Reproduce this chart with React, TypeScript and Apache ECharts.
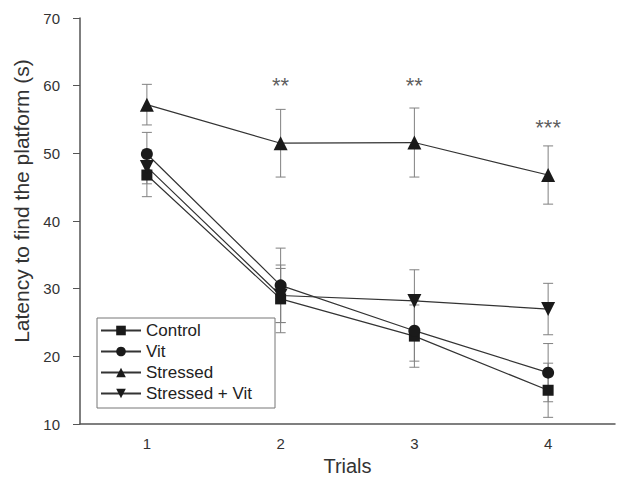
import React, { useEffect, useRef } from "react";
import * as echarts from "echarts";

const trials = ["1", "2", "3", "4"];
const control = [46.8, 28.5, 23.0, 15.0];
const controlErr = [3.2, 5.0, 4.6, 4.0];
const vit = [49.9, 30.5, 23.8, 17.6];
const vitErr = [3.2, 5.5, 4.5, 4.3];
const stressed = [57.2, 51.5, 51.6, 46.8];
const stressedErr = [3.0, 5.0, 5.1, 4.3];
const stressedVit = [48.0, 29.0, 28.2, 27.0];
const stressedVitErr = [2.5, 4.0, 4.6, 3.8];
const sigLabels = ["", "**", "**", "***"];
const sigY = [null, 60.0, 60.0, 53.8];

const FONT = "Liberation Sans, Arial, sans-serif";
const LINE = "#333";
const MARK = "#1a1a1a";

function errSeries(vals: number[], errs: number[]) {
  return {
    type: "custom",
    silent: true,
    z: 1,
    data: vals.map((v, i) => [i, v - errs[i], v + errs[i]]),
    renderItem: (params: any, api: any) => {
      const lo = api.coord([api.value(0), api.value(1)]);
      const hi = api.coord([api.value(0), api.value(2)]);
      const hw = 5;
      const style = { stroke: "#808080", lineWidth: 1 };
      return {
        type: "group",
        children: [
          { type: "line", shape: { x1: lo[0], y1: lo[1], x2: hi[0], y2: hi[1] }, style },
          { type: "line", shape: { x1: lo[0] - hw, y1: lo[1], x2: lo[0] + hw, y2: lo[1] }, style },
          { type: "line", shape: { x1: hi[0] - hw, y1: hi[1], x2: hi[0] + hw, y2: hi[1] }, style },
        ],
      };
    },
  };
}

function lineSeries(name: string, vals: number[], symbol: string, size: number) {
  return {
    name,
    type: "line",
    data: vals,
    symbol,
    symbolSize: size,
    z: 3,
    lineStyle: { color: LINE, width: 1.2 },
    itemStyle: { color: MARK, borderWidth: 0 },
  };
}

export default function App() {
  const ref = useRef<HTMLDivElement>(null);
  useEffect(() => {
    if (!ref.current) return;
    const chart = echarts.init(ref.current, undefined, { renderer: "svg" });
    const downTri = "path://M0,0 L10,0 L5,9 Z";
    chart.setOption({
      animation: false,
      backgroundColor: "#fff",
      textStyle: { fontFamily: FONT },
      grid: { left: 80, right: 3, top: 18, bottom: 56 },
      legend: {
        orient: "vertical",
        left: 100,
        top: 322,
        padding: 0,
        itemGap: 4,
        itemWidth: 40,
        itemHeight: 12,
        textStyle: { fontSize: 17, color: "#222", fontFamily: FONT },
        data: ["Control", "Vit", "Stressed", "Stressed + Vit"],
      },
      xAxis: {
        type: "category",
        data: trials,
        boundaryGap: true,
        name: "Trials",
        nameLocation: "middle",
        nameGap: 30,
        nameTextStyle: { fontSize: 20, color: "#333", fontFamily: FONT },
        axisLine: { lineStyle: { color: "#555", width: 1.5 } },
        axisTick: { alignWithLabel: true, length: 7, lineStyle: { color: "#555" } },
        axisLabel: { fontSize: 15, color: "#333", margin: 12 },
        splitLine: { show: false },
      },
      yAxis: {
        type: "value",
        min: 10,
        max: 70,
        interval: 10,
        name: "Latency to find the platform (s)",
        nameLocation: "middle",
        nameGap: 37,
        nameTextStyle: { fontSize: 21, color: "#333", fontFamily: FONT, padding: [0, 0, 0, 40] },
        axisLine: { show: true, lineStyle: { color: "#555", width: 1.5 } },
        axisTick: { show: true, length: 7, lineStyle: { color: "#555" } },
        axisLabel: { fontSize: 15, color: "#333", margin: 20 },
        splitLine: { show: false },
      },
      graphic: [
        {
          type: "rect",
          shape: { x: 97, y: 318, width: 178, height: 90 },
          style: { fill: "none", stroke: "#777", lineWidth: 1 },
          z: 0,
        },
      ],
      series: [
        errSeries(control, controlErr),
        errSeries(vit, vitErr),
        errSeries(stressed, stressedErr),
        errSeries(stressedVit, stressedVitErr),
        lineSeries("Control", control, "rect", 11),
        lineSeries("Vit", vit, "circle", 12),
        lineSeries("Stressed", stressed, "triangle", 14),
        lineSeries("Stressed + Vit", stressedVit, downTri, 14),
        {
          type: "scatter",
          silent: true,
          symbolSize: 0,
          data: sigY.map((v, i) => [i, v]),
          label: {
            show: true,
            position: "inside",
            fontSize: 22,
            color: "#333",
            fontFamily: FONT,
            formatter: (p: any) => sigLabels[p.dataIndex],
          },
        },
      ],
    });
    return () => chart.dispose();
  }, []);
  return (
    <div
      ref={ref}
      style={{ position: "fixed", left: 0, top: 0, width: 618, height: 481, background: "#fff" }}
    />
  );
}
